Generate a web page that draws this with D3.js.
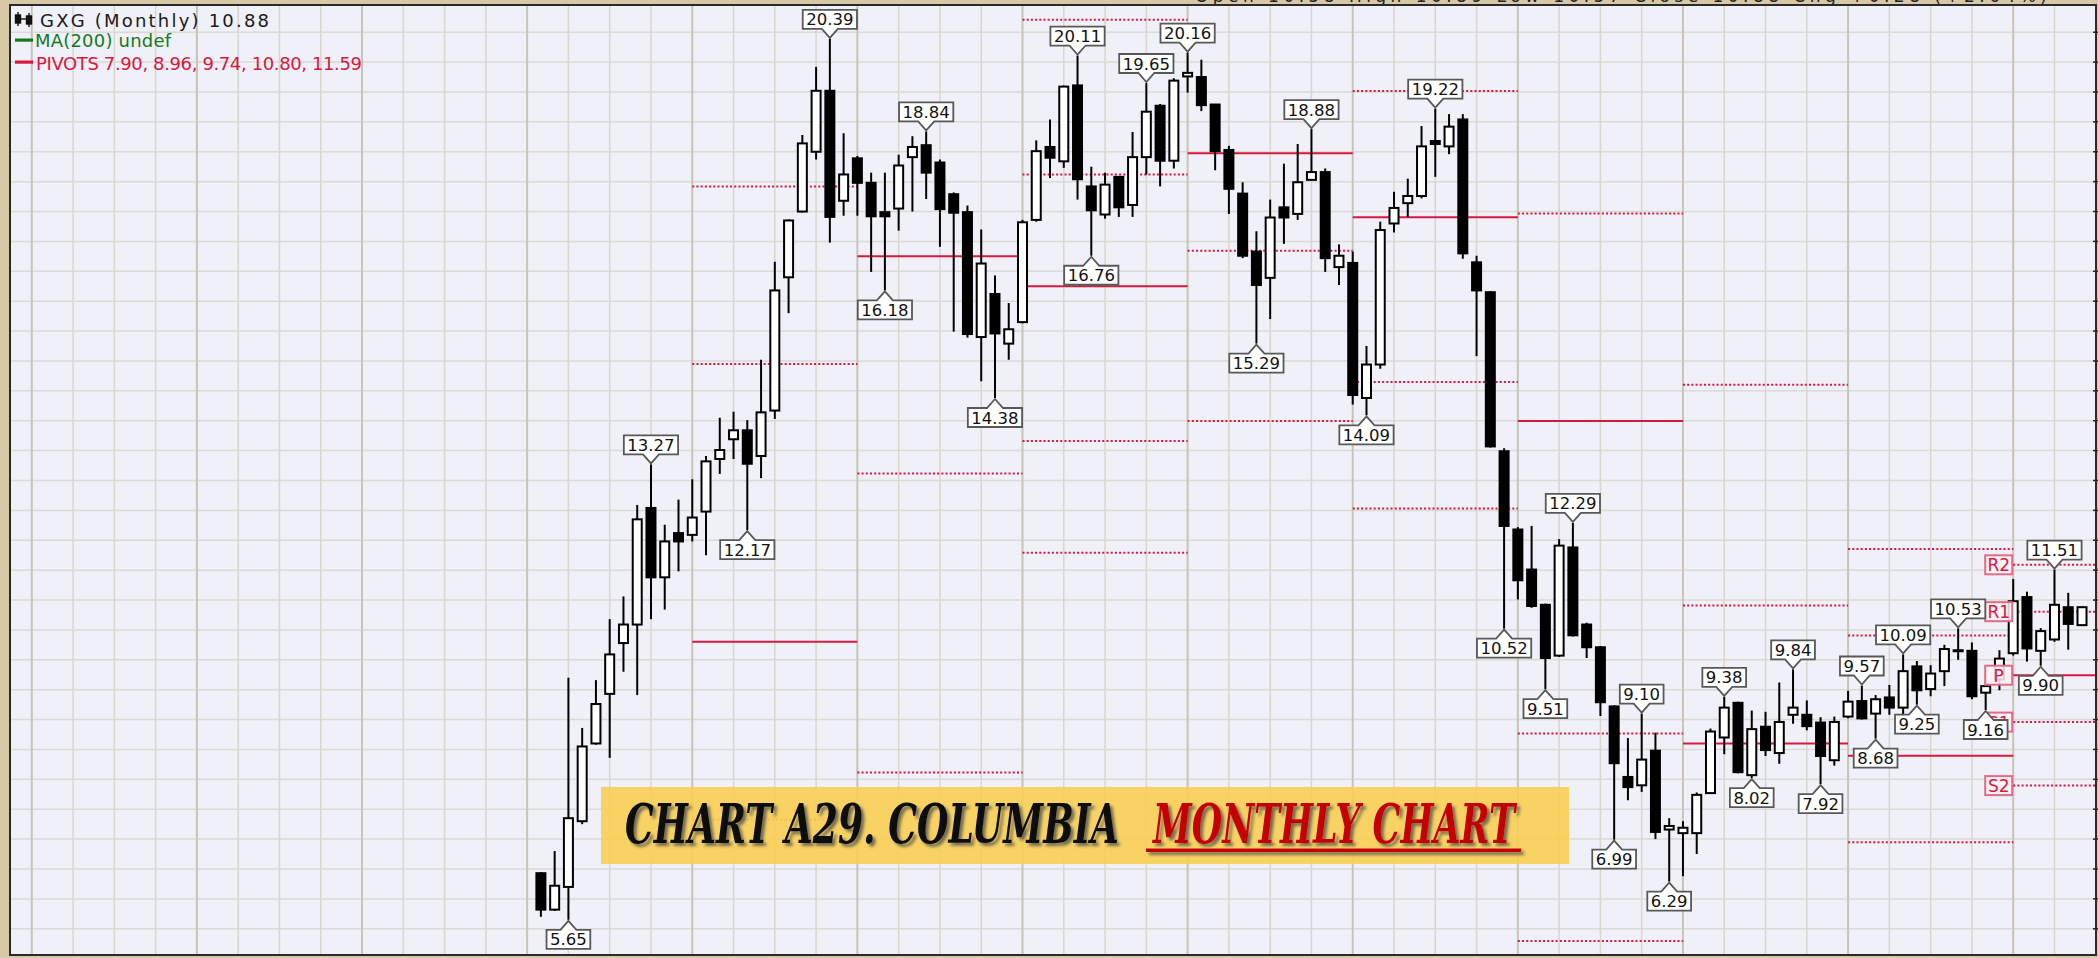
<!DOCTYPE html>
<html>
<head>
<meta charset="utf-8">
<script src="https://cdn.jsdelivr.net/npm/d3@7"></script>
<style>
  html, body { margin: 0; padding: 0; background: #d7c8a8; overflow: hidden; }
  svg { display: block; }
</style>
</head>
<body>
<svg id="chart" width="2098" height="958"></svg>
<script>
// ---- GXG monthly candles, Feb 2009 .. Jun 2018 ----
const symbol = "GXG";
const firstMonth = new Date(2009, 1, 1);

const opens = [6.43,5.82,6.20,7.30,8.60,9.43,10.28,10.59,12.54,11.38,12.12,
  12.09,12.48,13.36,13.69,13.84,13.41,14.17,16.40,17.50,18.50,19.52,17.68,
  18.39,17.98,17.49,17.55,18.41,18.61,18.32,17.79,17.49,15.40,16.12,15.29,
  15.65,17.36,18.58,18.34,19.61,17.92,17.45,18.08,17.61,18.41,19.27,18.35,
  19.76,19.75,19.29,18.53,17.80,16.83,16.39,17.57,17.46,18.03,18.16,16.57,
  16.64,14.38,14.94,17.30,17.64,17.76,18.68,18.59,19.04,16.65,16.15,13.49,
  12.18,11.51,10.92,10.07,11.88,10.59,10.21,9.22,8.04,7.90,8.48,7.16,
  7.10,7.10,7.77,8.70,9.28,8.07,8.88,8.44,9.08,9.08,8.95,8.32,
  9.05,9.31,9.10,9.37,9.20,9.89,9.51,9.81,10.16,10.15,9.45,9.67,
  10.11,11.05,10.15,10.34,10.88,10.58];

const highs = [6.45,6.80,9.70,8.86,9.66,10.68,11.06,12.59,13.27,12.26,12.68,
  13.02,13.41,14.05,14.15,14.01,15.02,16.66,17.37,18.78,19.92,20.39,18.81,
  18.43,18.15,18.15,18.45,18.76,18.84,18.37,17.82,17.60,17.20,16.43,15.97,
  17.36,18.69,19.04,19.61,20.11,18.25,18.15,18.09,18.83,19.65,19.30,19.73,
  20.16,20.04,19.30,18.60,17.99,17.17,17.70,18.30,18.63,18.88,18.22,16.95,
  16.83,15.25,17.33,17.83,18.05,18.93,19.22,19.13,19.13,16.76,16.17,13.54,
  12.22,12.24,10.94,12.02,12.29,10.62,10.23,9.24,8.69,9.10,8.78,7.35,
  7.30,7.78,8.85,9.38,9.30,9.15,9.13,9.62,9.84,9.32,9.04,9.05,
  9.48,9.57,9.41,9.58,10.09,9.98,9.91,10.25,10.527,10.29,9.57,10.16,
  11.35,11.14,10.53,11.51,11.12,10.89];

const lows = [5.70,5.80,5.65,7.25,8.58,8.36,9.80,9.41,10.68,10.84,11.48,
  11.98,11.75,13.11,13.36,12.17,13.04,14.03,15.80,17.48,18.37,16.98,17.43,
  17.43,16.49,16.18,17.18,17.50,17.71,16.91,15.49,15.39,14.66,14.38,15.02,
  15.63,17.33,18.06,18.23,17.70,16.76,17.38,17.41,17.41,18.12,17.92,18.22,
  19.49,19.18,18.19,17.46,16.72,15.29,15.70,16.96,17.36,18.02,16.49,16.27,
  14.27,14.09,14.87,17.15,17.41,17.72,18.08,18.46,16.71,15.08,13.55,10.52,
  11.01,10.87,9.51,10.05,10.39,10.03,9.06,6.99,7.65,7.79,7.00,6.29,
  6.38,6.75,7.76,8.42,8.10,8.02,8.39,8.26,8.93,8.82,7.92,8.23,
  9.02,9.00,8.68,9.08,9.08,9.25,9.39,9.56,10.00,9.34,9.16,9.49,
  10.07,9.97,9.90,10.30,10.17,10.57];

const closes = [5.82,6.22,7.35,8.55,9.26,10.09,10.59,12.35,11.38,11.98,11.98,
  12.38,13.32,13.51,13.84,13.28,14.14,16.18,17.35,18.64,19.52,17.41,18.12,
  17.98,17.42,17.42,18.27,18.58,18.15,17.54,17.48,15.45,16.63,15.46,15.53,
  17.32,18.51,18.40,19.59,18.04,17.52,17.95,17.57,18.41,19.17,18.35,19.69,
  19.82,19.28,18.51,17.88,16.76,16.27,17.40,17.40,17.99,18.16,16.72,16.76,
  14.43,14.94,17.19,17.56,17.76,18.59,18.63,18.92,16.80,16.18,13.57,12.24,
  11.33,10.90,10.03,11.91,10.41,10.21,9.29,8.27,7.87,8.33,7.12,7.22,
  7.19,7.74,8.80,9.20,8.12,8.84,8.49,8.96,9.20,8.89,8.39,8.96,
  9.30,9.02,9.34,9.20,9.81,9.49,9.77,10.18,10.15,9.39,9.56,10.02,
  10.98,10.19,10.48,10.92,10.60,10.88];

// candles carrying a swing-high / swing-low price tag
const swingHighIdx = [8, 21, 28, 39, 44, 47, 56, 65, 75, 80, 86, 91, 96, 99, 103, 110];
const swingLowIdx  = [2, 15, 25, 33, 40, 52, 60, 70, 73, 78, 82, 88, 93, 97, 100, 105, 109];

// price grid every 0.50
const priceTicks = d3.range(5.5, 21.0, 0.5);
const pivotNames = ["S2", "S1", "P", "R1", "R2"];

const titleBlack = "CHART A29. COLUMBIA";
const titleRed = "MONTHLY CHART";

// ---- layout ----
const W = 2098, H = 958;
const plot = { left: 10, top: 5, right: 2096, bottom: 955 };
const n = opens.length;
const months = d3.range(n).map(i => d3.timeMonth.offset(firstMonth, i));
const monthAt = i => d3.timeMonth.offset(firstMonth, i);

const x = d3.scaleLinear().domain([0, n - 1]).range([540.9, 2082.0]);
const y = d3.scaleLinear().domain([5, 21]).range([958.65, 2.33]);
const fmt = d3.format(".2f");

const FONT = "'DejaVu Sans', Verdana, sans-serif";
const SERIF = "'DejaVu Serif', 'Liberation Serif', serif";
const PIVOT_RED = "#d8183f";

const svg = d3.select("#chart");
const defs = svg.append("defs");
defs.append("clipPath").attr("id", "plotClip")
  .append("rect")
  .attr("x", plot.left).attr("y", plot.top)
  .attr("width", plot.right - plot.left).attr("height", plot.bottom - plot.top);
const shadow = defs.append("filter").attr("id", "titleShadow")
  .attr("x", "-5%").attr("y", "-20%").attr("width", "110%").attr("height", "150%");
shadow.append("feDropShadow")
  .attr("dx", 3).attr("dy", 3).attr("stdDeviation", 1.4)
  .attr("flood-color", "#4a4a4a").attr("flood-opacity", 0.75);

// outer frame
svg.append("rect").attr("width", W).attr("height", H).attr("fill", "#d7c8a8");

// quote strip above the plot (mostly hidden under the frame edge)
const last = n - 1;
const chg = closes[last] - closes[last - 1];
svg.append("text")
  .attr("x", 1195).attr("y", 2)
  .attr("font-family", FONT).attr("font-size", 17).attr("fill", "#222")
  .attr("textLength", 852).attr("lengthAdjust", "spacing")
  .text(`Open ${fmt(opens[last])}  High ${fmt(highs[last])}  Low ${fmt(lows[last])}  Close ${fmt(closes[last])}  Chg ${d3.format("+.2f")(chg)} (${d3.format("+.2%")(chg / closes[last - 1])})`);

// plot background
svg.append("rect")
  .attr("x", plot.left).attr("y", plot.top)
  .attr("width", plot.right - plot.left).attr("height", plot.bottom - plot.top)
  .attr("fill", "#eff0f8");

const inner = svg.append("g").attr("clip-path", "url(#plotClip)");

// grid: horizontal every 0.50
inner.append("g").selectAll("line").data(priceTicks).join("line")
  .attr("x1", plot.left).attr("x2", plot.right)
  .attr("y1", d => y(d)).attr("y2", d => y(d))
  .attr("stroke", "#dcdad4").attr("stroke-width", 1.5);

// grid: vertical every quarter, darker at each January
const quarterIdx = d3.range(Math.ceil(x.invert(plot.left)), Math.floor(x.invert(plot.right)) + 1)
  .filter(i => monthAt(i).getMonth() % 3 === 0);
inner.append("g").selectAll("line").data(quarterIdx).join("line")
  .attr("x1", d => x(d)).attr("x2", d => x(d))
  .attr("y1", plot.top).attr("y2", plot.bottom)
  .attr("stroke", d => monthAt(d).getMonth() === 0 ? "#c9c4b7" : "#d9d6cf")
  .attr("stroke-width", d => monthAt(d).getMonth() === 0 ? 2 : 1.5);

// ---- yearly floor-trader pivots from the previous year's H/L/C ----
const years = d3.groups(d3.range(n), i => months[i].getFullYear());
const pivots = [];
for (let k = 1; k < years.length; k++) {
  const prev = years[k - 1][1], cur = years[k][1];
  const hi = d3.max(prev, i => highs[i]);
  const lo = d3.min(prev, i => lows[i]);
  const cl = closes[prev[prev.length - 1]];
  const P = (hi + lo + cl) / 3;
  const levels = { S2: P - (hi - lo), S1: 2 * P - hi, P: P, R1: 2 * P - lo, R2: P + (hi - lo) };
  const x0 = x(cur[0]);
  const x1 = k < years.length - 1 ? x(years[k + 1][1][0]) : plot.right;
  pivots.push({ x0, x1, levels });
}
const pivotSegs = pivots.flatMap(p => pivotNames.map(name => ({ name, x0: p.x0, x1: p.x1, v: p.levels[name] })));
inner.append("g").selectAll("line").data(pivotSegs).join("line")
  .attr("x1", d => d.x0).attr("x2", d => d.x1)
  .attr("y1", d => y(d.v)).attr("y2", d => y(d.v))
  .attr("stroke", PIVOT_RED)
  .attr("stroke-width", 2)
  .attr("stroke-dasharray", d => d.name === "P" ? null : "2,2.2");

// ---- candles ----
const candles = inner.append("g");
const bodyW = 9;
candles.selectAll("line.wick").data(d3.range(n)).join("line")
  .attr("class", "wick")
  .attr("x1", i => x(i)).attr("x2", i => x(i))
  .attr("y1", i => y(highs[i])).attr("y2", i => y(lows[i]))
  .attr("stroke", "#000").attr("stroke-width", 2);
candles.selectAll("rect.body").data(d3.range(n)).join("rect")
  .attr("class", "body")
  .attr("x", i => x(i) - bodyW / 2)
  .attr("y", i => y(Math.max(opens[i], closes[i])))
  .attr("width", bodyW)
  .attr("height", i => Math.max(1, Math.abs(y(opens[i]) - y(closes[i]))))
  .attr("fill", i => closes[i] >= opens[i] ? "#ffffff" : "#000000")
  .attr("stroke", "#000").attr("stroke-width", 2);

// ---- pivot tags for the current year ----
const cur = pivots[pivots.length - 1];
const tagG = inner.append("g");
pivotNames.forEach(name => {
  const cy = y(cur.levels[name]);
  const g = tagG.append("g");
  g.append("rect")
    .attr("x", cur.x0 - 28).attr("y", cy - 9.5)
    .attr("width", 27).attr("height", 19)
    .attr("fill", "#fbf3f6").attr("fill-opacity", 0.85)
    .attr("stroke", "#e46a86").attr("stroke-width", 2);
  g.append("text")
    .attr("x", cur.x0 - 14.5).attr("y", cy + 6.5)
    .attr("text-anchor", "middle")
    .attr("font-family", FONT).attr("font-size", 17)
    .attr("fill", PIVOT_RED)
    .text(name);
});

// ---- swing price tags ----
const tags = inner.append("g");
function priceTag(i, isHigh) {
  const v = isHigh ? highs[i] : lows[i];
  const cx = x(i), vy = y(v);
  const g = tags.append("g");
  const path = g.append("path");
  const t = g.append("text")
    .attr("font-family", FONT).attr("font-size", 16.5)
    .attr("fill", "#111").attr("text-anchor", "middle")
    .text(fmt(v));
  const w = t.node().getComputedTextLength() + 7;
  const h = 19, notch = 8, gap = 9;
  const x0 = cx - w / 2, x1 = cx + w / 2;
  let top, d;
  if (isHigh) {
    const tip = vy - 1;
    const bottom = tip - gap;
    top = bottom - h;
    d = `M${x0},${top}H${x1}V${bottom}H${cx + notch}L${cx},${tip}L${cx - notch},${bottom}H${x0}Z`;
  } else {
    const tip = vy + 1;
    top = tip + gap;
    const bottom = top + h;
    d = `M${x0},${top}H${cx - notch}L${cx},${tip}L${cx + notch},${top}H${x1}V${bottom}H${x0}Z`;
  }
  path.attr("d", d).attr("fill", "#ffffff").attr("stroke", "#585858").attr("stroke-width", 1.8);
  t.attr("x", cx).attr("y", top + 15.5);
}
swingHighIdx.forEach(i => priceTag(i, true));
swingLowIdx.forEach(i => priceTag(i, false));

// ---- title banner ----
const banner = inner.append("g");
banner.append("rect")
  .attr("x", 601).attr("y", 787).attr("width", 968).attr("height", 77)
  .attr("fill", "#f8cf52").attr("fill-opacity", 0.9);
const bannerText = banner.append("g").attr("filter", "url(#titleShadow)");
// condensed heading: the text is squeezed horizontally to its target width
function squeezedText(str, x0, baseline, width, color) {
  const t = bannerText.append("text")
    .attr("font-family", SERIF)
    .attr("font-weight", "bold").attr("font-style", "italic")
    .attr("font-size", 55)
    .attr("fill", color)
    .text(str);
  const natural = t.node().getComputedTextLength();
  t.attr("transform", `translate(${x0},${baseline}) scale(${width / natural},1)`);
}
squeezedText(titleBlack, 625, 843, 494, "#0a0a0a");
squeezedText(titleRed, 1153, 843, 362, "#c50606");
bannerText.append("rect")
  .attr("x", 1146).attr("y", 848.5).attr("width", 375).attr("height", 3.5)
  .attr("fill", "#c50606");

// ---- legend ----
const legend = svg.append("g");
// small candlestick glyph
const icon = legend.append("g").attr("fill", "#111").attr("stroke", "#111").attr("stroke-width", 1.4);
icon.append("line").attr("x1", 18).attr("x2", 18).attr("y1", 12).attr("y2", 26);
icon.append("rect").attr("x", 15.5).attr("y", 15).attr("width", 5).attr("height", 8);
icon.append("line").attr("x1", 29).attr("x2", 29).attr("y1", 13).attr("y2", 27);
icon.append("rect").attr("x", 26.5).attr("y", 16).attr("width", 5).attr("height", 8);
icon.append("line").attr("x1", 21).attr("x2", 26).attr("y1", 19).attr("y2", 19);
legend.append("text")
  .attr("x", 40).attr("y", 27)
  .attr("font-family", FONT).attr("font-size", 18).attr("fill", "#1a1a1a")
  .attr("textLength", 229).attr("lengthAdjust", "spacing")
  .text(`${symbol} (Monthly) ${fmt(closes[last])}`);
legend.append("rect").attr("x", 15).attr("y", 38.5).attr("width", 18).attr("height", 3.2).attr("fill", "#157a1c");
legend.append("text")
  .attr("x", 35).attr("y", 47)
  .attr("font-family", FONT).attr("font-size", 18).attr("fill", "#157a1c")
  .attr("textLength", 136).attr("lengthAdjust", "spacing")
  .text("MA(200) undef");
legend.append("rect").attr("x", 15).attr("y", 60.5).attr("width", 18).attr("height", 3.2).attr("fill", PIVOT_RED);
legend.append("text")
  .attr("x", 36).attr("y", 70)
  .attr("font-family", FONT).attr("font-size", 18).attr("fill", PIVOT_RED)
  .attr("textLength", 326).attr("lengthAdjust", "spacing")
  .text("PIVOTS " + pivotNames.map(k => fmt(cur.levels[k])).join(", "));

// ---- right price axis edge ----
const axisG = svg.append("g");
axisG.append("line")
  .attr("x1", plot.right).attr("x2", plot.right)
  .attr("y1", plot.top).attr("y2", plot.bottom)
  .attr("stroke", "#222").attr("stroke-width", 2);
axisG.selectAll("line.tick").data(priceTicks).join("line")
  .attr("class", "tick")
  .attr("x1", plot.right - 3).attr("x2", plot.right + 3)
  .attr("y1", d => y(d)).attr("y2", d => y(d))
  .attr("stroke", "#222").attr("stroke-width", 1.5);

// plot border
svg.append("rect")
  .attr("x", plot.left).attr("y", plot.top)
  .attr("width", plot.right - plot.left).attr("height", plot.bottom - plot.top)
  .attr("fill", "none").attr("stroke", "#2a2a2a").attr("stroke-width", 2);
</script>
</body>
</html>
